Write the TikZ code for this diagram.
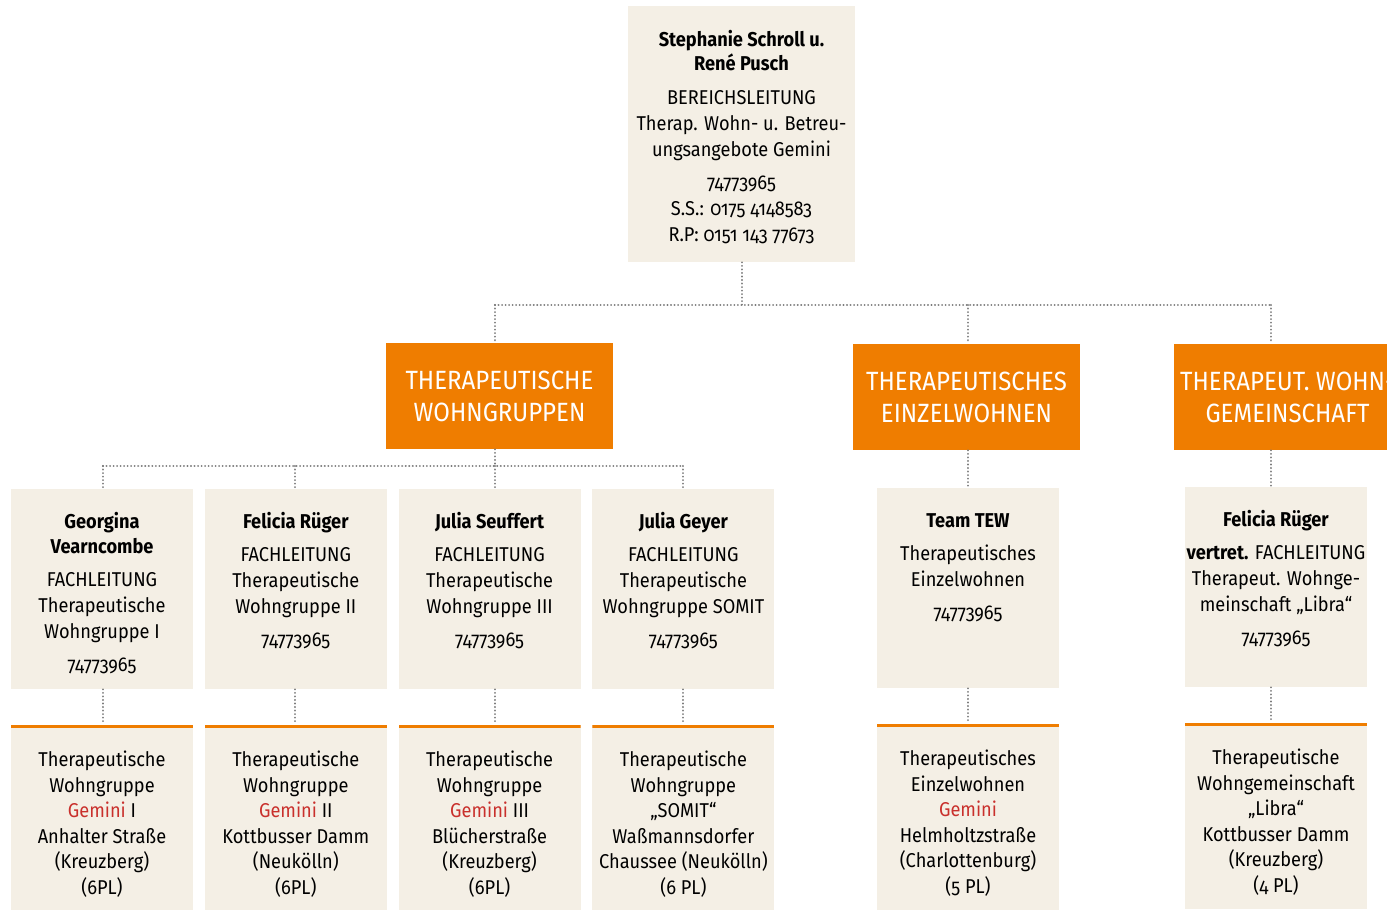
\documentclass[tikz,border=0pt]{standalone}
\usepackage{xcolor}
\definecolor{beige}{HTML}{F4EFE5}
\definecolor{orng}{HTML}{EF7D00}
\definecolor{gemred}{HTML}{C9302C}
\definecolor{dotgray}{HTML}{7C7C7C}
\usepackage{tikz}
\usetikzlibrary{positioning}
\usepackage{fontspec}
\setmainfont{Fira Sans}[Numbers=OldStyle,FakeStretch=0.91]

\newcommand{\gem}{\textcolor{gemred}{Gemini}}
\newcommand{\toptxt}[1]{\parbox[c][128pt][t]{113.5pt}{\centering\vspace*{10.9pt}\strut#1}}
\newcommand{\midtxt}[1]{\parbox[c][100pt][t]{91pt}{\centering\vspace*{10.8pt}\strut#1}}
\newcommand{\bottxt}[1]{\parbox[c][93pt][t]{91pt}{\centering\fontsize{10}{12.8}\selectfont\vspace*{13pt}#1}}

\tikzset{
  topbox/.style={fill=beige,inner sep=0pt,font=\fontsize{10}{13}\selectfont},
  orgbox/.style={fill=orng,text=white,inner sep=0pt,minimum width=113.5pt,minimum height=53pt,align=center,font=\fontsize{13.2}{16}\selectfont},
  midbox/.style={fill=beige,inner sep=0pt,font=\fontsize{10}{13}\selectfont},
  unitbox/.style={fill=beige,inner sep=0pt,path picture={\fill[orng] (path picture bounding box.north west) rectangle ([yshift=-1.5pt]path picture bounding box.north east);}},
  conn/.style={draw=dotgray,line width=1.05pt,dash pattern=on 0.01pt off 1.75pt,line cap=round}
}

\begin{document}
\begin{tikzpicture}[x=0.5pt,y=-0.5pt]
  \useasboundingbox (0,0) rectangle (1387,910);
  \clip (0,0) rectangle (1387,910);
  % head of the area
  \node[topbox] (top) at (741.5,134) {\toptxt{\textbf{Stephanie Schroll u.}\\[-1pt]\textbf{René Pusch}\\[4pt]BEREICHSLEITUNG\\Therap. Wohn- u. Betreu-\\ungsangebote Gemini\\[3.5pt]74773965\\S.S.: 0175 4148583\\R.P: 0151 143 77673}};
  % the three offers
  \node[orgbox] (wg) at (499.5,396) {THERAPEUTISCHE\\WOHNGRUPPEN};
  \node[orgbox] (ew) at (966.5,397) {THERAPEUTISCHES\\EINZELWOHNEN};
  \node[orgbox] (wgm) at (1287.5,397) {THERAPEUT. WOHN-\\GEMEINSCHAFT};
  % leads
  \node[midbox] (b1) at (102,589) {\midtxt{\textbf{Georgina}\\[-0.5pt]\textbf{Vearncombe}\\[3.5pt]FACHLEITUNG\\Therapeutische\\Wohngruppe I\\[3.5pt]74773965}};
  \node[midbox,right=5.5pt of b1] (b2) {\midtxt{\textbf{Felicia Rüger}\\[3.5pt]FACHLEITUNG\\Therapeutische\\Wohngruppe II\\[3.5pt]74773965}};
  \node[midbox,right=5.5pt of b2] (b3) {\midtxt{\textbf{Julia Seuffert}\\[3.5pt]FACHLEITUNG\\Therapeutische\\Wohngruppe III\\[3.5pt]74773965}};
  \node[midbox,right=5.5pt of b3] (b4) {\midtxt{\textbf{Julia Geyer}\\[3.5pt]FACHLEITUNG\\Therapeutische\\Wohngruppe SOMIT\\[3.5pt]74773965}};
  \node[midbox] (b5) at (968,588) {\midtxt{\textbf{Team TEW}\\[3.5pt]Therapeutisches\\Einzelwohnen\\[3.5pt]74773965}};
  \node[midbox] (b6) at (1276,587) {\midtxt{\textbf{Felicia Rüger}\\[3.5pt]\textbf{vertret.} FACHLEITUNG\\Therapeut. Wohnge-\\meinschaft „Libra“\\[3.5pt]74773965}};
  % houses
  \node[unitbox,below=17.5pt of b1] (c1) {\bottxt{Therapeutische\\Wohngruppe\\\gem{} I\\Anhalter Straße\\(Kreuzberg)\\(6PL)}};
  \node[unitbox,below=17.5pt of b2] (c2) {\bottxt{Therapeutische\\Wohngruppe\\\gem{} II\\Kottbusser Damm\\(Neukölln)\\(6PL)}};
  \node[unitbox,below=17.5pt of b3] (c3) {\bottxt{Therapeutische\\Wohngruppe\\\gem{} III\\Blücherstraße\\(Kreuzberg)\\(6PL)}};
  \node[unitbox,below=17.5pt of b4] (c4) {\bottxt{Therapeutische\\Wohngruppe\\„SOMIT“\\Waßmannsdorfer\\Chaussee (Neukölln)\\(6 PL)}};
  \node[unitbox,below=17.5pt of b5] (c5) {\bottxt{Therapeutisches\\Einzelwohnen\\\gem\\Helmholtzstraße\\(Charlottenburg)\\(5 PL)}};
  \node[unitbox,below=17.5pt of b6] (c6) {\bottxt{Therapeutische\\Wohngemeinschaft\\„Libra“\\Kottbusser Damm\\(Kreuzberg)\\(4 PL)}};
  % dotted connectors
  \coordinate (topbus) at (742,305);
  \coordinate (wgx) at (495,305);
  \coordinate (ewx) at (968,305);
  \coordinate (wgmx) at (1271,305);
  \coordinate (g1) at (103,466);
  \coordinate (g2) at (295,466);
  \coordinate (g3) at (495,466);
  \coordinate (g4) at (683,466);
  \draw[conn] (top.south -| topbus) -- (topbus);
  \draw[conn] (wgx) -- (wgmx);
  \draw[conn] (wgx) -- (wgx |- wg.north);
  \draw[conn] (ewx) -- (ewx |- ew.north);
  \draw[conn] (wgmx) -- (wgmx |- wgm.north);
  \draw[conn] (wgx |- wg.south) -- (g3);
  \draw[conn] (g1) -- (g4);
  \draw[conn] (g1) -- (g1 |- b1.north);
  \draw[conn] (g2) -- (g2 |- b2.north);
  \draw[conn] (g3) -- (g3 |- b3.north);
  \draw[conn] (g4) -- (g4 |- b4.north);
  \draw[conn] (ewx |- ew.south) -- (ewx |- b5.north);
  \draw[conn] (wgmx |- wgm.south) -- (wgmx |- b6.north);
  \draw[conn] (g1 |- b1.south) -- (g1 |- c1.north);
  \draw[conn] (g2 |- b2.south) -- (g2 |- c2.north);
  \draw[conn] (g3 |- b3.south) -- (g3 |- c3.north);
  \draw[conn] (g4 |- b4.south) -- (g4 |- c4.north);
  \draw[conn] (ewx |- b5.south) -- (ewx |- c5.north);
  \draw[conn] (wgmx |- b6.south) -- (wgmx |- c6.north);
\end{tikzpicture}
\end{document}
